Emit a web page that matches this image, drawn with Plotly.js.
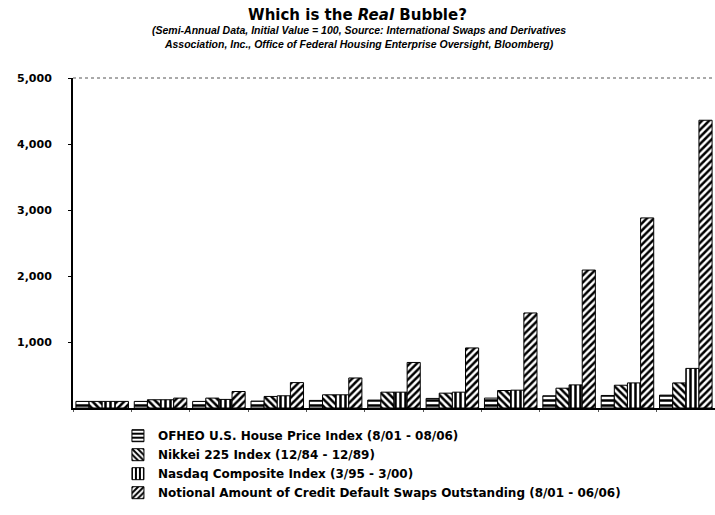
<!DOCTYPE html>
<html>
<head>
<meta charset="utf-8">
<script src="https://cdn.plot.ly/plotly-3.0.1.min.js"></script>
<style>html,body{margin:0;padding:0;background:#fff;}#chart{width:715px;height:515px;}</style>
</head>
<body>
<div id="chart"></div>
<script>
// Semi-annual periods (no labels shown on the x axis)
const periods = ['P0','P1','P2','P3','P4','P5','P6','P7','P8','P9','P10'];
const seriesNames = [
  'OFHEO U.S. House Price Index (8/01 - 08/06)',
  'Nikkei 225 Index (12/84 - 12/89)',
  'Nasdaq Composite Index (3/95 - 3/00)',
  'Notional Amount of Credit Default Swaps Outstanding (8/01 - 06/06)'
];
const ofheo  = [100, 100, 100, 105, 115, 120, 145, 150, 185, 190, 195];
const nikkei = [100, 125, 150, 175, 200, 240, 225, 265, 300, 345, 380];
const nasdaq = [100, 125, 130, 185, 200, 240, 240, 270, 350, 380, 600];
const cds    = [100, 150, 250, 385, 455, 690, 910, 1440, 2090, 2880, 4360];
const yTicks = [1000, 2000, 3000, 4000, 5000];
const yTickText = ['1,000', '2,000', '3,000', '4,000', '5,000'];

const FONT = 'DejaVu Sans, Verdana, sans-serif';
const shapesPattern = ['-', '\\', '|', '/'];
const allSeries = [ofheo, nikkei, nasdaq, cds];

const traces = allSeries.map((vals, i) => ({
  type: 'bar',
  name: seriesNames[i],
  x: periods,
  y: vals,
  marker: {
    color: '#ffffff',
    line: {color: '#000000', width: 1},
    pattern: {shape: shapesPattern[i], fgcolor: '#000000', bgcolor: '#ffffff', size: 5, solidity: 0.5}
  },
  hoverinfo: 'name+y'
}));

const layout = {
  width: 715, height: 515,
  paper_bgcolor: '#ffffff', plot_bgcolor: '#ffffff',
  margin: {l: 73, r: 0, t: 78, b: 107},
  font: {family: FONT, color: '#000000'},
  barmode: 'group', bargap: 0.1, bargroupgap: 0,
  title: {
    text: '<b>Which is the <i>Real</i> Bubble?</b>',
    font: {family: FONT, size: 15, color: '#000'},
    x: 0.5, xanchor: 'center', y: 0.971, yanchor: 'middle'
  },
  annotations: [{
    xref: 'paper', yref: 'paper', x: 0.4455, y: 1.125, xanchor: 'center', yanchor: 'middle',
    showarrow: false, align: 'center',
    text: '<b><i>(Semi-Annual Data, Initial Value = 100, Source: International Swaps and Derivatives<br>Association, Inc., Office of Federal Housing Enterprise Oversight, Bloomberg)</i></b>',
    font: {family: 'Liberation Sans, Arial, sans-serif', size: 10.5, color: '#000'}
  }],
  xaxis: {
    type: 'category',
    showticklabels: false,
    showline: true, linecolor: '#000', linewidth: 2,
    ticks: 'outside', ticklen: 2, tickcolor: '#555', tickson: 'boundaries',
    showgrid: false, zeroline: false, fixedrange: true
  },
  yaxis: {
    range: [0, 5000],
    tickvals: yTicks, ticktext: yTickText,
    tickfont: {family: FONT, size: 11, color: '#000', weight: 'bold'},
    ticks: 'outside', ticklen: 3, tickcolor: '#000',
    ticklabelstandoff: 14,
    showline: true, linecolor: '#000', linewidth: 2,
    showgrid: false, zeroline: false, fixedrange: true
  },
  shapes: [{
    type: 'line', xref: 'paper', yref: 'paper', x0: 0, x1: 1, y0: 1, y1: 1,
    line: {color: '#555', width: 1, dash: 'dot'}
  }],
  showlegend: true,
  legend: {
    orientation: 'v', x: 0.07, xanchor: 'left', y: -0.04, yanchor: 'top',
    font: {family: FONT, size: 12, color: '#000', weight: 'bold'},
    bgcolor: 'rgba(0,0,0,0)', tracegroupgap: 0, traceorder: 'normal'
  }
};

Plotly.newPlot('chart', traces, layout, {displayModeBar: false, staticPlot: true});
</script>
</body>
</html>
